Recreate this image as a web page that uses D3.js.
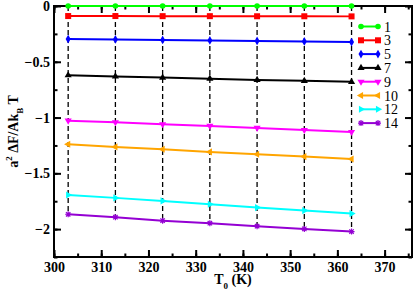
<!DOCTYPE html>
<html lang="en">
<head>
<meta charset="UTF-8">
<title>free energy vs T0</title>
<style>
    body{ margin:0; background:white; }
    text{ font-family:"Liberation Serif","Times New Roman",serif; }
</style>
</head>
<body>
<script src="https://d3js.org/d3.v7.min.js"></script>
<script>

var temps = [303, 313, 323, 333, 343, 353, 363];
var labels = ["1", "3", "5", "7", "9", "10", "12", "14"];
var colors = ["#00ff00", "#ff0000", "#0000ff", "#000000", "#ff00ff", "#ffa500", "#00ffff", "#9400d3"];

var s1  = [0, 0, 0, 0, 0, 0, 0];
var s3  = [-0.090, -0.090, -0.091, -0.091, -0.092, -0.092, -0.093];
var s5  = [-0.296, -0.300, -0.304, -0.309, -0.313, -0.318, -0.323];
var s7  = [-0.621, -0.631, -0.642, -0.652, -0.663, -0.671, -0.680];
var s9  = [-1.028, -1.042, -1.060, -1.075, -1.093, -1.111, -1.129];
var s10 = [-1.239, -1.263, -1.284, -1.308, -1.329, -1.350, -1.371];
var s12 = [-1.694, -1.720, -1.747, -1.777, -1.807, -1.834, -1.861];
var s14 = [-1.867, -1.893, -1.924, -1.947, -1.974, -1.998, -2.022];

var xTicks = [300, 310, 320, 330, 340, 350, 360, 370];
var yTicks = [0, -0.5, -1, -1.5, -2];

var series = [s1, s3, s5, s7, s9, s10, s12, s14];

var width = 415, height = 293;
var pLeft = 54, pRight = 412, pTop = 6, pBottom = 257;

var x = d3.scaleLinear().domain([300, 375.8]).range([pLeft, pRight]);
var y = d3.scaleLinear().domain([-2.25, 0]).range([pBottom, pTop]);

var svg = d3.select("body").append("svg")
        .attr("width", width)
        .attr("height", height);

// vertical dashed guides
svg.selectAll(".guide")
        .data(temps).enter()
        .append("line")
        .attr("class", "guide")
        .attr("x1", function(d){ return x(d); })
        .attr("x2", function(d){ return x(d); })
        .attr("y1", function(d, i){ return y(s1[i]); })
        .attr("y2", function(d, i){ return y(s14[i]); })
        .style("stroke", "black")
        .style("stroke-width", 1.3)
        .style("stroke-dasharray", "5,3");

// frame + ticks
var minorX = d3.range(300, 376, 5);
var minorY = d3.range(0, -2.26, -0.25);

var axB = d3.axisBottom(x).tickValues(xTicks).tickSize(-7).tickPadding(5).tickFormat(d3.format("d"));
var axT = d3.axisTop(x).tickValues(xTicks).tickSize(-7).tickFormat("");
var axL = d3.axisLeft(y).tickValues(yTicks).tickSize(-7).tickPadding(4).tickFormat(function(d){ return d === 0 ? "0" : d3.format("")(d); });
var axR = d3.axisRight(y).tickValues(yTicks).tickSize(-7).tickFormat("");

function minor(ax, vals){
    return ax.tickValues(vals).tickSize(-3.5).tickFormat("");
}

svg.append("g").attr("transform", "translate(0," + pBottom + ")").call(axB);
svg.append("g").attr("transform", "translate(0," + pBottom + ")").call(minor(d3.axisBottom(x), minorX));
svg.append("g").attr("transform", "translate(0," + pTop + ")").call(axT);
svg.append("g").attr("transform", "translate(0," + pTop + ")").call(minor(d3.axisTop(x), minorX));
svg.append("g").attr("transform", "translate(" + pLeft + ",0)").call(axL);
svg.append("g").attr("transform", "translate(" + pLeft + ",0)").call(minor(d3.axisLeft(y), minorY));
svg.append("g").attr("transform", "translate(" + pRight + ",0)").call(axR);
svg.append("g").attr("transform", "translate(" + pRight + ",0)").call(minor(d3.axisRight(y), minorY));

svg.selectAll(".domain").remove();
svg.selectAll(".tick line").style("stroke", "black").style("stroke-width", 2);
svg.selectAll(".tick text")
        .style("font-family", "'Liberation Serif', serif")
        .style("font-size", "14px")
        .style("font-weight", "bold")
        .style("fill", "black");

svg.append("rect")
        .attr("x", pLeft).attr("y", pTop)
        .attr("width", pRight - pLeft).attr("height", pBottom - pTop)
        .style("fill", "none")
        .style("stroke", "black")
        .style("stroke-width", 2);

// markers
function marker(sel, i, cx, cy){
    var c = colors[i];
    var g = sel.append("g").attr("transform", "translate(" + cx + "," + cy + ")");
    var sz = 22;
    if (i == 0) {
        g.append("circle").attr("r", 2.8).style("fill", c);
    } else if (i == 1) {
        g.append("rect").attr("x", -3).attr("y", -3).attr("width", 6).attr("height", 6).style("fill", c);
    } else if (i == 2) {
        g.append("path").attr("d", d3.symbol().type(d3.symbolDiamond).size(sz)()).style("fill", c);
    } else if (i == 7) {
        g.append("path").attr("d", "M-3,0H3M0,-3V3M-2.2,-2.2L2.2,2.2M-2.2,2.2L2.2,-2.2")
                .style("stroke", c).style("stroke-width", 1.2);
    } else {
        var rot = {3: 0, 4: 180, 5: -90, 6: 90}[i];
        g.append("path").attr("d", d3.symbol().type(d3.symbolTriangle).size(sz)())
                .attr("transform", "rotate(" + rot + ")")
                .style("fill", c);
    }
}

var line = d3.line()
        .x(function(d, i){ return x(temps[i]); })
        .y(function(d){ return y(d); });

series.forEach(function(s, i){
    svg.append("path")
            .datum(s)
            .attr("d", line)
            .style("fill", "none")
            .style("stroke", colors[i])
            .style("stroke-width", 2);
    s.forEach(function(v, j){
        marker(svg, i, x(temps[j]), y(v));
    });
});

// legend
var leg = svg.append("g");
labels.forEach(function(l, i){
    var ly = 26.5 + i * 13.8;
    leg.append("line")
            .attr("x1", 361).attr("x2", 378)
            .attr("y1", ly).attr("y2", ly)
            .style("stroke", colors[i]).style("stroke-width", 2);
    marker(leg, i, 361, ly);
    marker(leg, i, 378, ly);
    leg.append("text")
            .attr("x", 384).attr("y", ly + 5)
            .style("font-size", "14px")
            .text(l);
});

// axis titles
var xt = svg.append("text")
        .attr("x", (pLeft + pRight) / 2).attr("y", 284)
        .attr("text-anchor", "middle")
        .style("font-size", "14px").style("font-weight", "bold");
xt.append("tspan").text("T");
xt.append("tspan").attr("dy", 5).style("font-size", "9px").text("0");
xt.append("tspan").attr("dy", -5).text(" (K)");

var yt = svg.append("text")
        .attr("transform", "translate(18," + ((pTop + pBottom) / 2) + ") rotate(-90)")
        .attr("text-anchor", "middle")
        .style("font-size", "14px").style("font-weight", "bold");
yt.append("tspan").text("a");
yt.append("tspan").attr("dy", -6).style("font-size", "9px").text("2");
yt.append("tspan").attr("dy", 6).text(" \u0394F/Ak");
yt.append("tspan").attr("dy", 5).style("font-size", "9px").text("B");
yt.append("tspan").attr("dy", -5).text(" T");

</script>
</body>
</html>
